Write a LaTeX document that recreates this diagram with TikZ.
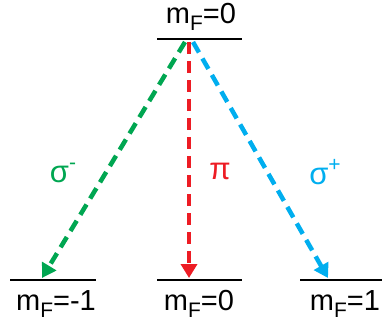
\documentclass[tikz,border=0pt]{standalone}
\usepackage{fontspec}
\setmainfont{Liberation Sans}
\usetikzlibrary{arrows.meta}
\definecolor{cgreen}{RGB}{0,166,81}
\definecolor{cred}{RGB}{237,28,36}
\definecolor{cblue}{RGB}{0,174,239}
\newcommand{\mylev}[1]{m\raisebox{-0.26em}{\fontsize{21}{23}\selectfont F}=#1}
\newcommand{\mysup}[1]{\raisebox{0.42em}{\fontsize{21}{23}\selectfont #1}}
\tikzset{
  level/.style={line width=2.2pt, black},
  lbl/.style={font=\fontsize{29}{32}\selectfont, inner sep=0pt},
  trans/.style={line width=4.5pt, dash pattern=on 12pt off 7pt, -{Triangle[length=14pt,width=16pt]}},
  pol/.style={font=\fontsize{31}{34}\selectfont, inner sep=0pt}
}
\begin{document}
\begin{tikzpicture}[x=1pt,y=-1pt]
\useasboundingbox (0,0) rectangle (382,327);
% levels
\coordinate (t1) at (157,39); \coordinate (t2) at (242,39);
\coordinate (l1) at (10,280); \coordinate (l2) at (96,280);
\coordinate (m1) at (157,280); \coordinate (m2) at (242,280);
\coordinate (r1) at (300,280); \coordinate (r2) at (382,280);
\draw[level] (t1) -- (t2);
\draw[level] (l1) -- (l2);
\draw[level] (m1) -- (m2);
\draw[level] (r1) -- (r2);
% labels
\node[lbl] (top) at (201,17) {\mylev{0}};
\node[lbl] (bl) at (56,304) {\mylev{-1}};
\node[lbl] (bm) at (199,304) {\mylev{0}};
\node[lbl] (br) at (345,304) {\mylev{1}};
% transitions
\coordinate (sg) at (185,42); \coordinate (eg) at (42,278);
\coordinate (sr) at (189,42); \coordinate (er) at (189,278);
\coordinate (sb) at (193,42); \coordinate (eb) at (328,278);
\draw[trans, cgreen] (sg) -- (eg);
\draw[trans, cred] (sr) -- (er);
\draw[trans, cblue] (sb) -- (eb);
% polarization labels
\node[pol, text=cgreen] (sm) at (63,173) {σ\mysup{-}};
\node[pol, text=cred] (pi) at (220,171) {π};
\node[pol, text=cblue] (sp) at (325,172) {σ\mysup{+}};
\end{tikzpicture}
\end{document}
